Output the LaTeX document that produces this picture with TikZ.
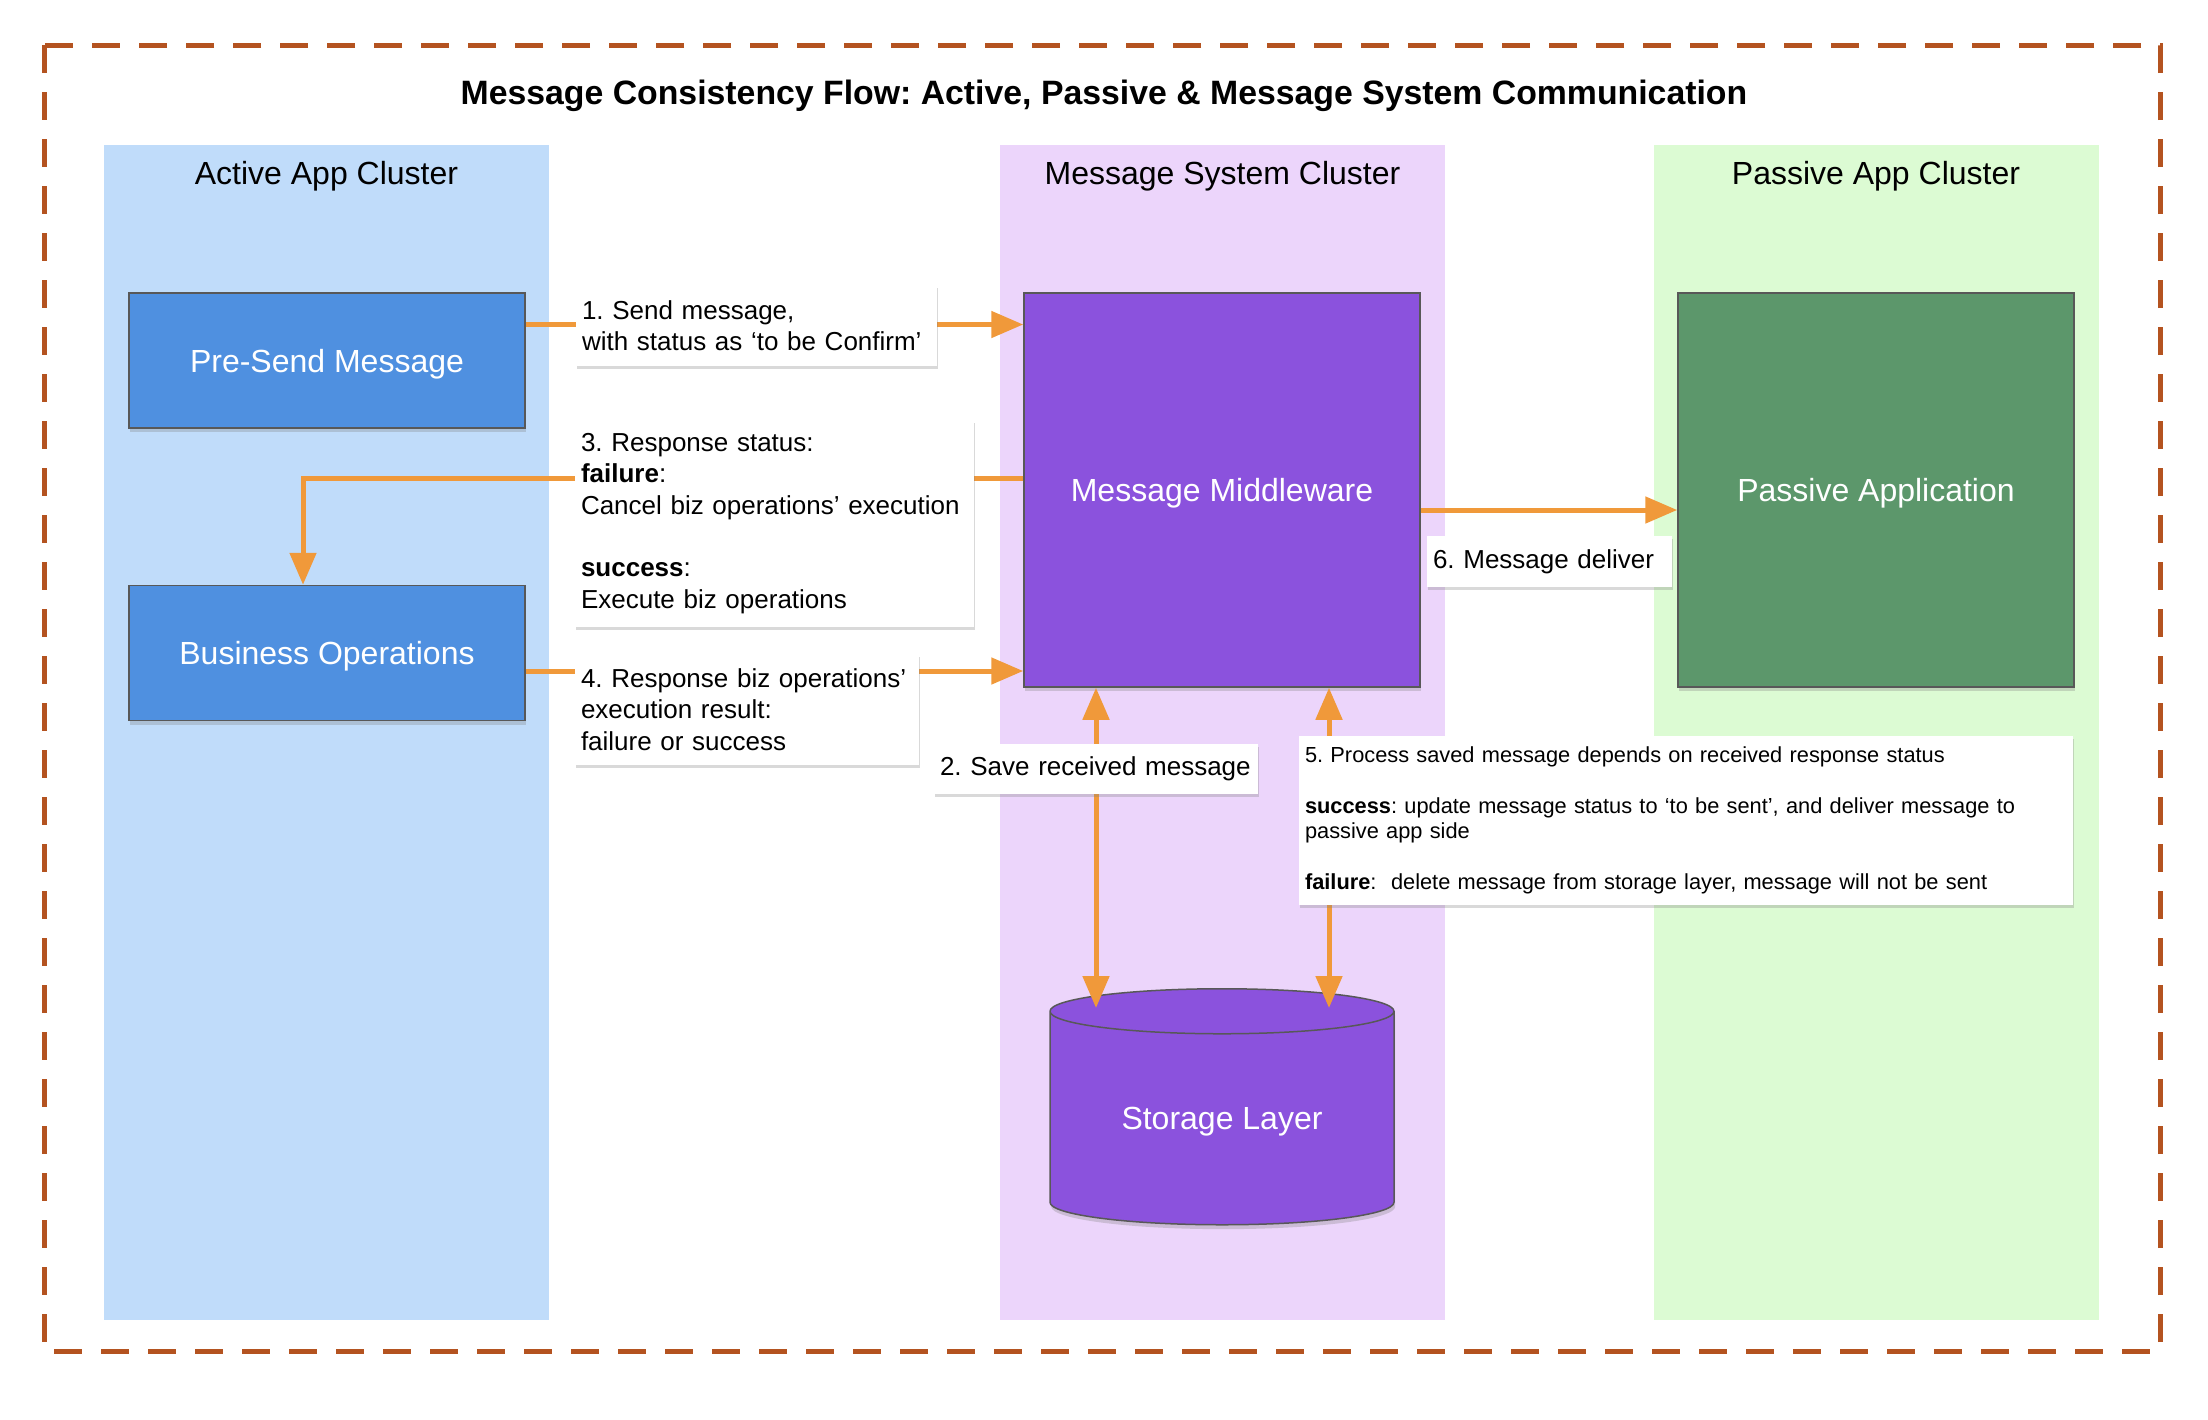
\documentclass[tikz,border=0pt]{standalone}
\usepackage{fontspec}
\setmainfont{Liberation Sans}
\usepackage{tikz}
\usetikzlibrary{arrows.meta,shapes.geometric,shadows}
\frenchspacing
\hyphenpenalty=10000
\exhyphenpenalty=10000
\definecolor{ActBg}{RGB}{192,220,250}
\definecolor{MsgBg}{RGB}{236,213,251}
\definecolor{PasBg}{RGB}{220,251,211}
\definecolor{BoxBlue}{RGB}{79,144,224}
\definecolor{MidPurple}{RGB}{139,82,221}
\definecolor{PasGreen}{RGB}{92,151,107}
\definecolor{FlowOrange}{RGB}{240,153,58}
\definecolor{FrameRust}{RGB}{180,83,32}
\definecolor{EdgeGrey}{RGB}{88,88,88}
\tikzset{
  frameline/.style={FrameRust, line width=2.5pt, dash pattern=on 14pt off 9.5pt},
  titletext/.style={font=\bfseries\fontsize{16.9}{20}\selectfont},
  cluster/.style={draw=none, minimum width=222.5pt, minimum height=587.5pt, inner sep=0pt},
  clustertitle/.style={font=\fontsize{16}{19}\selectfont},
  appbox/.style={draw=EdgeGrey, line width=0.75pt, text=white, minimum width=198pt, minimum height=67.5pt,
    text depth=0pt, font=\fontsize{16}{19}\selectfont,
    drop shadow={shadow xshift=0.6pt, shadow yshift=-2.2pt, opacity=0.3}},
  tallbox/.style={minimum height=197pt},
  store/.style={cylinder, shape border rotate=90, aspect=0.21, draw=EdgeGrey, line width=0.75pt, fill=MidPurple,
    text=white, minimum width=172pt, minimum height=118pt, font=\fontsize{16}{19}\selectfont,
    drop shadow={shadow xshift=0.6pt, shadow yshift=-2.2pt, opacity=0.3}},
  flowline/.style={FlowOrange, line width=2.5pt, -{Triangle[length=16pt, width=13pt]}},
  flowboth/.style={FlowOrange, line width=2.5pt, {Triangle[length=16pt, width=13pt]}-{Triangle[length=16pt, width=13pt]}},
  note/.style={fill=white, align=left, inner xsep=3pt, inner ysep=0pt, font=\fontsize{13}{15.7}\selectfont,
    drop shadow={shadow xshift=0.6pt, shadow yshift=-1.6pt, opacity=0.3}},
  smallnote/.style={note, font=\fontsize{10.9}{12.75}\selectfont}
}
\begin{document}
\begin{tikzpicture}[x=0.5pt,y=-0.5pt]
\useasboundingbox (0,0) rectangle (2208,1420);
\draw[frameline] (44,45) rectangle (2160,1351);
\node[titletext] (title) at (1104,96) {Message Consistency Flow: Active, Passive \& Message System Communication};
\foreach \nm/\cx/\bg/\lbl in {act/326.5/ActBg/Active App Cluster, msg/1222.5/MsgBg/Message System Cluster, pas/1876/PasBg/Passive App Cluster}{
  \node[cluster, fill=\bg] (\nm) at (\cx,732.5) {};
  \node[clustertitle] (\nm-title) at ([yshift=-16pt]\nm.north) {\lbl};
}
\node[appbox, fill=BoxBlue] (presend) at (327,360.5) {Pre-Send Message};
\node[appbox, fill=BoxBlue] (bizops) at (327,653) {Business Operations};
\node[appbox, tallbox, fill=MidPurple] (middleware) at (1222,490) {Message Middleware};
\node[appbox, tallbox, fill=PasGreen] (passive) at (1876,490) {Passive Application};
\node[store, anchor=north] (storage) at (1222,988) {Storage Layer};
\coordinate (send) at ([yshift=18pt]presend.east);
\draw[flowline] (send) -- (send -| middleware.west);
\draw[flowline] ([yshift=6pt]middleware.west) -| ([xshift=-12pt]bizops.north);
\coordinate (result) at ([yshift=-9pt]bizops.east);
\draw[flowline] (result) -- (result -| middleware.west);
\coordinate (deliver) at ([yshift=-10pt]middleware.east);
\draw[flowline] (deliver) -- (deliver -| passive.west);
\draw[flowboth] ([xshift=-63pt]middleware.south) -- ([xshift=-63pt,yshift=-10pt]storage.north);
\draw[flowboth] ([xshift=53.5pt]middleware.south) -- ([xshift=53.5pt,yshift=-10pt]storage.north);
\node[note, text width=174.5pt, minimum height=40.5pt] (note1) at (756.5,325.5) {1. Send message,\\with status as ‘to be Confirm’};
\node[note, text width=193.5pt, minimum height=103.5pt] (note3) at (774.5,523.5) {3. Response status:\\\textbf{failure}:\\Cancel biz operations’ execution\\[15.7pt]\textbf{success}:\\Execute biz operations};
\node[note, text width=166pt, minimum height=55.5pt] (note4) at (747,709.5) {4. Response biz operations’\\execution result:\\failure or success};
\node[note, text width=156pt, minimum height=25pt] (note2) at (1096,769) {2. Save received message};
\node[note, text width=116.5pt, minimum height=25.5pt] (note6) at (1549.5,561.5) {6. Message deliver};
\node[smallnote, text width=381pt, minimum height=84.5pt] (note5) at (1686,820.5) {5. Process saved message depends on received response status\\[12.75pt]\textbf{success}: update message status to ‘to be sent’, and deliver message to\\passive app side\\[12.75pt]\textbf{failure}:~~delete message from storage layer, message will not be sent};
\end{tikzpicture}
\end{document}
